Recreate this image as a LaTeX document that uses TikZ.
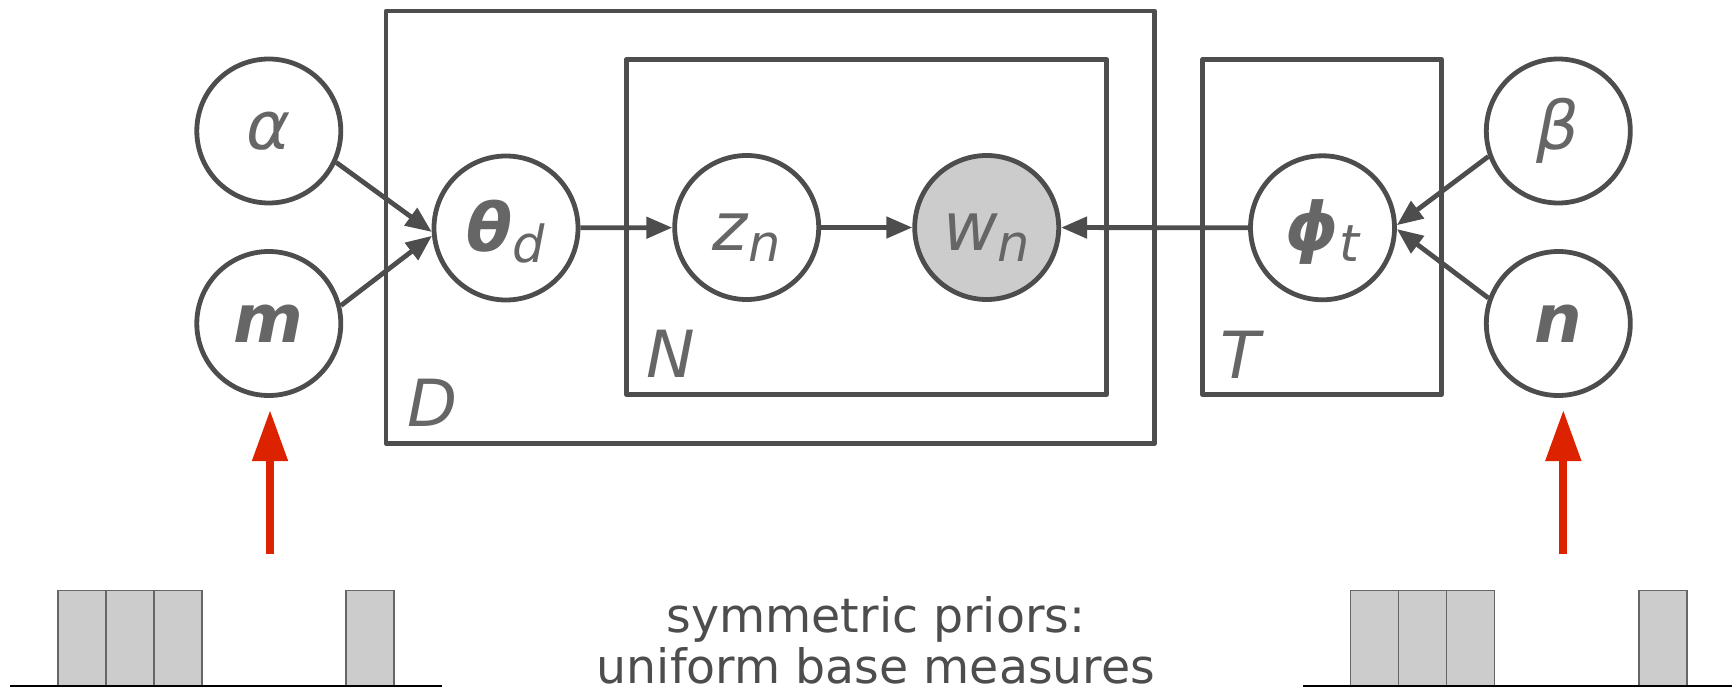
\documentclass[tikz,border=0pt]{standalone}
\usepackage{fontspec}
\setmainfont{DejaVu Sans}[ItalicFont={DejaVu Sans Oblique},BoldItalicFont={DejaVu Sans Bold Oblique}]
\usetikzlibrary{arrows.meta}

\definecolor{linegray}{HTML}{4D4D4D}
\definecolor{textgray}{HTML}{666666}
\definecolor{obsgray}{HTML}{CCCCCC}
\definecolor{bingray}{HTML}{666666}
\definecolor{priorred}{HTML}{DD2200}

\newcommand{\lowidx}[1]{\raisebox{-5.5pt}{\fontsize{25.5}{25.5}\selectfont #1}}

\tikzset{
	rv/.style={shape=circle, draw=linegray, line width=2.4pt, minimum size=72pt, inner sep=0pt, text=textgray, font=\fontsize{33.5}{33.5}\selectfont\itshape, text height=20.5pt, text depth=2pt},
	rvsub/.style={rv, text height=24.5pt, text depth=1.5pt},
	obs/.style={fill=obsgray},
	plate/.style={shape=rectangle, draw=linegray, line width=2.4pt, line join=round, inner sep=0pt, outer sep=0pt},
	platelabel/.style={anchor=base west, text=textgray, font=\fontsize{32.5}{32.5}\selectfont\itshape},
	dep/.style={draw=linegray, line width=2.4pt, -{Triangle[length=13pt,width=10.5pt]}},
	prior/.style={draw=priorred, line width=4pt, -{Triangle[length=25.5pt,width=17pt]}},
	histbar/.style={draw=bingray, fill=obsgray, line width=0.6pt},
}

\begin{document}
\begin{tikzpicture}[x=0.5pt,y=-0.5pt]
		\useasboundingbox (0,0) rectangle (1732,695);

		% plates
		\node[plate, minimum width=384.2pt, minimum height=216.2pt] (plateD) at (770.2,227.2) {};
		\node[plate, minimum width=240.2pt, minimum height=167.4pt] (plateN) at (866.5,227) {};
		\node[plate, minimum width=119.6pt, minimum height=167.4pt] (plateT) at (1321.9,227) {};
		\node[platelabel] (labelD) at ([xshift=7pt,yshift=8.6pt]plateD.south west) {D};
		\node[platelabel] (labelN) at ([xshift=6.5pt,yshift=8.6pt]plateN.south west) {N};
		\node[platelabel] (labelT) at ([xshift=5.5pt,yshift=8.2pt]plateT.south west) {T};

		% variables
		\node[rv] (alpha) at (268.8,131) {α};
		\node[rv] (m) at (268.8,323.5) {\bfseries m};
		\node[rvsub] (theta) at (506,228) {{\bfseries θ}\lowidx{d}};
		\node[rvsub] (z) at (746.7,227.5) {z\lowidx{n}};
		\node[rvsub, obs] (w) at (986.7,227.5) {w\lowidx{n}};
		\node[rvsub] (phi) at (1322.5,227.8) {{\bfseries ϕ}\lowidx{t}};
		\node[rv] (beta) at (1558.3,131) {β};
		\node[rv] (n) at (1558.3,323.5) {\bfseries n};

		\path (alpha.-25) edge[dep] (theta.183);
		\path (m.14) edge[dep] (theta.186);
		\path (theta) edge[dep] (z);
		\path (z) edge[dep] (w);
		\path (phi) edge[dep] (w);
		\path (beta.200) edge[dep] (phi.2);
		\path (n.160) edge[dep] (phi.-1);

		% base measures
		\coordinate (mbase) at (270,554);
		\coordinate (mtip) at (270,410);
		\coordinate (nbase) at (1563.3,554);
		\coordinate (ntip) at (1563.3,410);
		\draw[prior] (mbase) -- (mtip);
		\draw[prior] (nbase) -- (ntip);

		\foreach \x in {58,106,154,346}
			\draw[histbar] (\x,686) rectangle ++(48,-95.3);
		\foreach \x in {1350.7,1398.7,1446.7,1639}
			\draw[histbar] (\x,686) rectangle ++(48,-95.3);
		\draw[black, line width=0.6pt] (10,686) -- (442,686);
		\draw[black, line width=0.6pt] (1302.7,686) -- (1734,686);

		\node[font=\fontsize{23.7}{25.5}\selectfont, text=linegray, align=center, anchor=base, inner sep=0pt, text depth=0pt] (priors) at (876,683) {symmetric priors:\\uniform base measures};
\end{tikzpicture}
\end{document}
